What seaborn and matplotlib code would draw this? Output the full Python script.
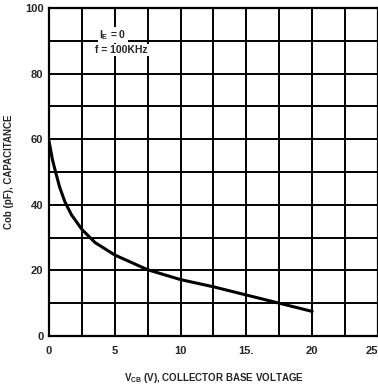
import numpy as np
import pandas as pd
import matplotlib
matplotlib.use("Agg")
import matplotlib.pyplot as plt
import seaborn as sns

# Cob vs Vcb
vcb = [0, 0.25, 0.5, 0.8, 1.2, 1.7, 2.5, 3.5, 5, 7.5, 10, 12.5, 15, 17.5, 20]
cob = [59.5, 54, 50, 45.5, 41, 37, 32.5, 28.5, 24.7, 20.2, 17.2, 15, 12.5, 10, 7.5]

x_ticks = [0, 5, 10, 15, 20, 25]
x_tick_labels = ["0", "5", "10", "15.", "20", "25"]
y_ticks = [0, 20, 40, 60, 80, 100]

df = pd.DataFrame({"vcb": vcb, "cob": cob})

sns.set_style("white")
plt.rcParams["font.family"] = ["Liberation Sans", "DejaVu Sans"]
plt.rcParams["font.weight"] = "bold"

fig = plt.figure(figsize=(3.78, 3.86), dpi=100)
ax = fig.add_axes([0.1296, 0.1295, 0.8704, 0.8497])

sns.lineplot(data=df, x="vcb", y="cob", color="black", linewidth=2.2, ax=ax)

ax.set_xlim(0, 25)
ax.set_ylim(0, 100)
ax.set_xticks(x_ticks)
ax.set_xticks(np.arange(0, 25.1, 2.5), minor=True)
ax.set_yticks(y_ticks)
ax.set_yticks(np.arange(0, 100.1, 10), minor=True)
ax.grid(True, which="both", color="black", linewidth=1.4)
ax.set_xticklabels(x_tick_labels)
ax.tick_params(which="both", length=0, labelsize=8)
ax.tick_params(axis="x", pad=7)
ax.tick_params(axis="y", pad=4)
for lab in ax.get_xticklabels() + ax.get_yticklabels():
    lab.set_fontweight("bold")
# last label sits at the right edge, as in the scan
ax.get_xticklabels()[-1].set_horizontalalignment("right")

for s in ax.spines.values():
    s.set_color("black")
    s.set_linewidth(1.6)

ax.set_xlabel(r"V$_\mathregular{CB}$ (V), COLLECTOR BASE VOLTAGE",
              fontsize=7, fontweight="bold", labelpad=11)
ax.set_ylabel("Cob (pF), CAPACITANCE", fontsize=7, fontweight="bold", labelpad=8)

# condition note, white box hides the 90 grid line behind it
note = dict(facecolor="white", edgecolor="none", pad=1.0)
ax.text(3.8, 90.9, r"I$_\mathregular{E}$ = 0", fontsize=7.5, fontweight="bold",
        va="baseline", bbox=note, zorder=5)
ax.text(3.5, 86.3, "f = 100KHz", fontsize=7.5, fontweight="bold",
        va="baseline", bbox=note, zorder=5)

fig.savefig("out.png", dpi=100, facecolor="white")
